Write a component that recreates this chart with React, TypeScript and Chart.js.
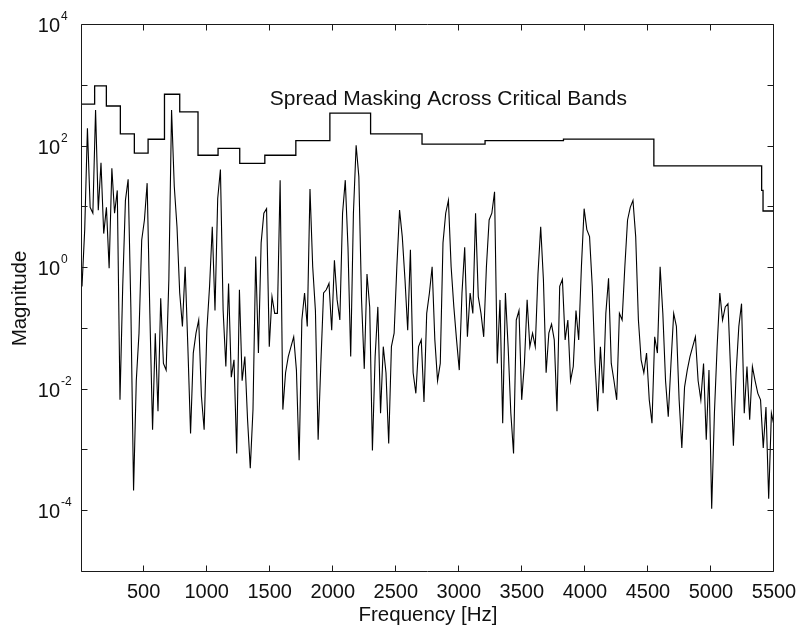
import { useEffect, useRef } from "react";
import { Chart, registerables } from "chart.js";

Chart.register(...registerables);

// ---- data ----
const SPECTRUM_START_HZ = 10.77;
const SPECTRUM_STEP_HZ = 21.53;
const SPECTRUM_MAGNITUDE = [
  0.5, 4.3, 200, 10, 8, 400, 9, 54, 3.7, 10,
  1.0, 44, 8, 19, 6.8e-3, 0.5, 13, 29, 0.23, 2.2e-4,
  1.4e-2, 8.5e-2, 2.9, 6.2, 25, 0.18, 2.2e-3, 8.5e-2, 4.4e-3, 0.32,
  2.7e-2, 2.1e-2, 0.65, 400, 22, 4.8, 0.39, 0.11, 1.05, 5.1e-2,
  1.9e-3, 4e-2, 8.5e-2, 0.14, 7.8e-3, 2.2e-3, 9.5e-2, 0.5, 4.8, 0.2,
  14, 42, 0.2, 2.4e-2, 0.56, 1.6e-2, 3.1e-2, 8.9e-4, 0.44, 1.4e-2,
  3.5e-2, 3.2e-3, 5.1e-4, 4.7e-3, 1.55, 4e-2, 2.6, 8, 9.5, 5.1e-2,
  0.34, 0.18, 0.18, 28, 4.7e-3, 1.9e-2, 3.5e-2, 5.1e-2, 7.4e-2, 2.1e-2,
  6.9e-4, 0.14, 0.39, 0.11, 20, 1.05, 0.2, 1.5e-3, 2.7e-2, 0.39,
  0.44, 0.56, 9.5e-2, 1.35, 0.3, 0.14, 8, 28, 2.2, 3.5e-2,
  8, 105, 32, 0.3, 2.2e-2, 0.8, 0.23, 1e-3, 3.5e-2, 0.23,
  4.1e-3, 5.1e-2, 1.9e-2, 1.3e-3, 5.1e-2, 8.5e-2, 1.05, 9, 3.3, 0.65,
  9.5e-2, 2, 1.9e-2, 8.7e-3, 5.1e-2, 6.6e-2, 6.3e-3, 0.18, 0.39, 1.05,
  6.6e-2, 1.4e-2, 2.7e-2, 2.6, 8, 13, 1.05, 0.23, 6.6e-2, 2.1e-2,
  0.39, 2.2, 7.4e-2, 0.39, 0.18, 8, 0.34, 0.18, 7.4e-2, 1.05,
  6.2, 8, 18, 2.7e-2, 0.3, 2.8e-3, 0.39, 5.1e-2, 4.1e-3, 8.9e-4,
  0.14, 0.2, 6.8e-3, 2.7e-2, 0.3, 5.1e-2, 8.5e-2, 5.1e-2, 0.8, 4.8,
  0.65, 1.9e-2, 8.5e-2, 0.12, 6.6e-2, 4.4e-3, 0.5, 0.65, 6.6e-2, 0.14,
  1.4e-2, 2.4e-2, 0.2, 6.6e-2, 1.05, 9.5, 4.3, 3.3, 0.5, 2.7e-2,
  4.4e-3, 5.1e-2, 8.7e-3, 0.18, 0.68, 2.7e-2, 1.4e-2, 6.8e-3, 0.18, 0.14,
  1.05, 6.2, 10, 13, 3.3, 0.14, 3.1e-2, 1.9e-2, 4e-2, 6.8e-3,
  2.8e-3, 7.4e-2, 4e-2, 1.05, 0.18, 1.4e-2, 3.6e-3, 2.7e-2, 0.18, 0.11,
  6.8e-3, 1.1e-3, 1.1e-2, 2.1e-2, 3.5e-2, 5.1e-2, 7.4e-2, 1.4e-2, 6.8e-3, 2.7e-2,
  1.5e-3, 2.1e-2, 1.1e-4, 4.1e-3, 5.1e-2, 0.39, 0.14, 0.23, 0.26, 1.9e-2,
  1.2e-3, 1.9e-2, 0.11, 0.26, 4.1e-3, 2.4e-2, 3.2e-3, 2.4e-2, 1.4e-2, 8.7e-3,
  6.8e-3, 1.1e-3, 5.2e-3, 1.6e-4, 4.1e-3, 2.5e-3,
];

const MASK_BAND_START_HZ = [
  10.77, 111, 204, 315, 426, 535, 665, 786, 931, 1090, 1262,
  1461, 1707, 1977, 2300, 2708, 3208, 3830, 4547, 5402, 5413,
];
const MASK_MAGNITUDE = [
  500, 1000, 465, 162, 78, 132, 725, 372, 72, 93, 53,
  72, 125, 355, 162, 110, 125, 133, 48, 19, 8.7,
];

const X_MIN = 10.77;
const X_MAX = 5500;
const X_TICKS = [500, 1000, 1500, 2000, 2500, 3000, 3500, 4000, 4500, 5000, 5500];
const Y_MIN = 1e-5;
const Y_MAX = 1e4;
const Y_TICK_EXPONENTS = [-5, -4, -3, -2, -1, 0, 1, 2, 3, 4];
const Y_LABEL_EXPONENTS = [-4, -2, 0, 2, 4];

const X_TITLE = "Frequency [Hz]";
const Y_TITLE = "Magnitude";
const ANNOTATION_TEXT = "Spread Masking Across Critical Bands";
const ANNOTATION_HZ = 1500;
const ANNOTATION_MAG = 600;

const FONT = '"Liberation Sans", Arial, Helvetica, sans-serif';
const INK = "#111";

const matlabAxes = {
  id: "matlabAxes",
  afterDatasetsDraw(chart: any) {
    const { ctx, chartArea, scales } = chart;
    const { left, right, top, bottom } = chartArea;
    const x = scales.x;
    const y = scales.y;
    ctx.save();
    ctx.strokeStyle = "#1a1a1a";
    ctx.lineWidth = 1;
    const L = Math.round(left) - 0.5;
    const R = Math.round(right) - 0.5;
    const T = Math.round(top) - 0.5;
    const B = Math.round(bottom) - 0.5;
    ctx.beginPath();
    ctx.rect(L, T, R - L, B - T);
    const tl = 6;
    for (const t of x.ticks) {
      const px = Math.round(x.getPixelForValue(t.value)) - 0.5;
      ctx.moveTo(px, B);
      ctx.lineTo(px, B - tl);
      ctx.moveTo(px, T);
      ctx.lineTo(px, T + tl);
    }
    for (const t of y.ticks) {
      const py = Math.round(y.getPixelForValue(t.value)) - 0.5;
      ctx.moveTo(L, py);
      ctx.lineTo(L + tl, py);
      ctx.moveTo(R, py);
      ctx.lineTo(R - tl, py);
    }
    ctx.stroke();

    // y tick labels with superscript exponents
    ctx.fillStyle = INK;
    for (const e of Y_LABEL_EXPONENTS) {
      const py = y.getPixelForValue(Math.pow(10, e));
      ctx.font = `20px ${FONT}`;
      ctx.textAlign = "right";
      ctx.textBaseline = "alphabetic";
      ctx.fillText("10", 60, py + 7);
      ctx.font = `12px ${FONT}`;
      ctx.textAlign = "left";
      ctx.fillText(String(e), 61, py - 5);
    }

    // annotation
    ctx.font = `21px ${FONT}`;
    ctx.textAlign = "left";
    ctx.textBaseline = "middle";
    ctx.fillText(
      ANNOTATION_TEXT,
      x.getPixelForValue(ANNOTATION_HZ),
      y.getPixelForValue(ANNOTATION_MAG)
    );
    ctx.restore();
  },
};

export default function App() {
  const ref = useRef<HTMLCanvasElement | null>(null);

  useEffect(() => {
    if (!ref.current) return;
    const spectrumPoints = SPECTRUM_MAGNITUDE.map((m, i) => ({
      x: SPECTRUM_START_HZ + i * SPECTRUM_STEP_HZ,
      y: m,
    }));
    const maskPoints = MASK_BAND_START_HZ.map((f, i) => ({ x: f, y: MASK_MAGNITUDE[i] }));
    maskPoints.push({ x: X_MAX, y: MASK_MAGNITUDE[MASK_MAGNITUDE.length - 1] });

    const chart = new Chart(ref.current, {
      type: "line",
      data: {
        datasets: [
          {
            label: "Spectrum",
            data: spectrumPoints,
            borderColor: "#000",
            borderWidth: 1.1,
            pointRadius: 0,
            tension: 0,
            fill: false,
          },
          {
            label: "Spread masking",
            data: maskPoints,
            borderColor: "#000",
            borderWidth: 1.3,
            pointRadius: 0,
            stepped: "before",
            fill: false,
          },
        ],
      },
      options: {
        responsive: false,
        animation: false,
        events: [],
        layout: { padding: { top: 25, right: 22, bottom: 0, left: 0 } },
        plugins: { legend: { display: false }, tooltip: { enabled: false } },
        scales: {
          x: {
            type: "linear",
            min: X_MIN,
            max: X_MAX,
            grid: { display: false, drawTicks: false },
            border: { display: false },
            afterBuildTicks: (s: any) => {
              s.ticks = X_TICKS.map((v) => ({ value: v }));
            },
            ticks: {
              padding: 8,
              maxRotation: 0,
              autoSkip: false,
              color: INK,
              font: { family: FONT, size: 20 },
              callback: (v: any) => String(v),
            },
            title: {
              display: true,
              text: X_TITLE,
              color: INK,
              font: { family: FONT, size: 20.5 },
              padding: { top: 0, bottom: 5 },
            },
            afterFit: (s: any) => {
              s.height = 61;
              s.paddingLeft = 0;
              s.paddingRight = 22;
            },
          },
          y: {
            type: "logarithmic",
            min: Y_MIN,
            max: Y_MAX,
            grid: { display: false, drawTicks: false },
            border: { display: false },
            afterBuildTicks: (s: any) => {
              s.ticks = Y_TICK_EXPONENTS.map((e) => ({ value: Math.pow(10, e) }));
            },
            ticks: { display: false },
            title: {
              display: true,
              text: Y_TITLE,
              color: INK,
              font: { family: FONT, size: 20.5 },
              padding: { top: 8, bottom: 0 },
            },
            afterFit: (s: any) => {
              s.width = 82;
              s.paddingTop = 0;
              s.paddingBottom = 0;
            },
          },
        },
      } as any,
      plugins: [matlabAxes],
    });
    return () => chart.destroy();
  }, []);

  return (
    <div
      style={{
        position: "absolute",
        left: 0,
        top: 0,
        width: 796,
        height: 633,
        background: "#fff",
      }}
    >
      <canvas ref={ref} width={796} height={633} style={{ display: "block" }} />
    </div>
  );
}
